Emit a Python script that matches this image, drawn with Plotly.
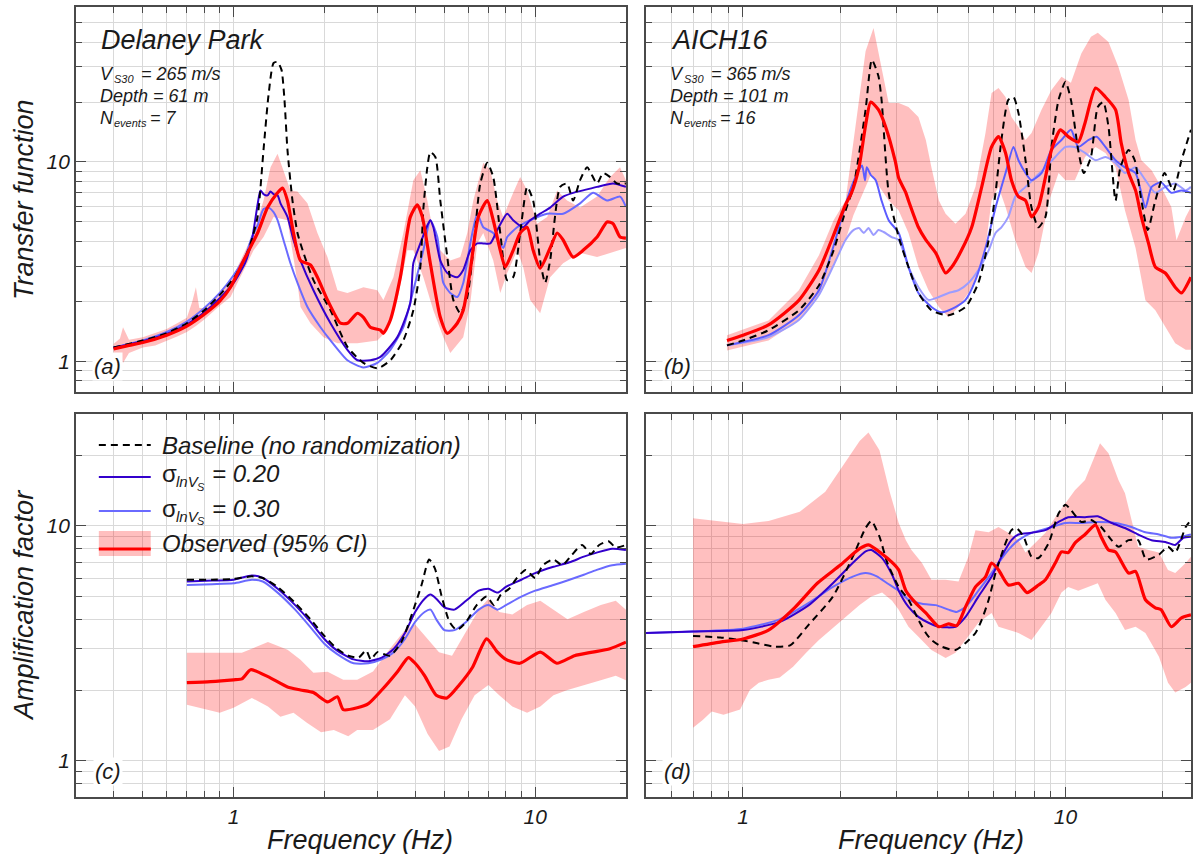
import math
import plotly.graph_objects as go

W, H = 1193, 854

# ---------------- Panel (a): Delaney Park, transfer function ----------------
A_BASE_F = [0.40, 0.50, 0.60, 0.70, 0.80, 0.90, 1.00, 1.096, 1.139, 1.201, 1.257, 1.306, 1.357, 1.399, 1.442, 1.475, 1.509,
            1.568, 1.629, 1.705, 1.840, 2.096, 2.385, 2.695, 2.998, 3.311, 3.655, 3.945, 4.162, 4.258, 4.390, 4.491, 4.666,
            4.847, 5.113, 5.352, 5.645, 5.955, 6.235, 6.577, 6.937, 7.262, 7.661, 8.078, 8.455, 8.919, 9.408, 9.849, 10.39,
            10.79, 11.21, 12.10, 12.76, 13.36, 14.09, 14.87, 16.04, 16.80, 17.72, 18.69, 20.0]
A_BASE_V = [1.17, 1.27, 1.38, 1.55, 1.80, 2.15, 2.60, 3.35, 3.9, 5.3, 11.5, 21.7, 31.4, 31.8, 29.0, 20.5, 11.5,
            6.4, 4.4, 3.5, 2.55, 1.8, 1.18, 0.98, 0.92, 1.01, 1.27, 1.8, 2.97, 5.8, 9.4, 11.2, 10.6,
            6.4, 3.33, 2.03, 1.74, 2.1, 3.6, 7.8, 9.9, 8.4, 4.4, 2.55, 2.64, 4.4, 7.5, 6.4, 3.2,
            2.47, 3.2, 7.5, 7.8, 6.4, 8.1, 9.4, 7.8, 8.8, 8.4, 7.8, 7.8]
A_S20_F = [0.40, 0.50, 0.60, 0.70, 0.80, 0.90, 1.00, 1.096, 1.15, 1.201, 1.228, 1.257, 1.296, 1.326, 1.357, 1.399, 1.431,
           1.509, 1.580, 1.667, 1.840, 2.096, 2.385, 2.574, 2.842, 3.068, 3.491, 3.856, 3.945, 4.162, 4.390, 4.491, 4.595,
           4.847, 5.113, 5.517, 5.775, 6.094, 6.428, 6.729, 7.097, 7.487, 8.078, 8.455, 9.127, 9.625, 10.39, 11.21, 12.38,
           13.36, 14.42, 16.04, 18.13, 20.0]
A_S20_V = [1.17, 1.26, 1.37, 1.53, 1.76, 2.07, 2.47, 3.15, 4.05, 6.1, 7.2, 6.9, 6.8, 7.1, 6.9, 6.8, 6.2,
           5.3, 4.06, 3.2, 2.27, 1.55, 1.14, 1.01, 1.01, 1.05, 1.32, 1.96, 3.1, 3.9, 4.8, 5.1, 4.7,
           3.2, 2.77, 2.64, 2.87, 3.6, 3.9, 3.9, 3.9, 4.55, 5.5, 5.1, 4.7, 5.1, 5.5, 5.9, 6.7,
           7.0, 7.2, 7.5, 7.8, 7.5]
A_S30_F = [0.40, 0.50, 0.60, 0.70, 0.80, 0.90, 1.00, 1.096, 1.15, 1.201, 1.257, 1.306, 1.357, 1.399, 1.464, 1.544, 1.629,
           1.758, 1.942, 2.096, 2.385, 2.695, 2.998, 3.311, 3.655, 3.945, 4.258, 4.491, 4.738, 4.960, 5.231, 5.517, 5.775,
           6.094, 6.428, 6.729, 7.262, 7.834, 8.078, 8.717, 9.625, 10.96, 12.38, 14.09, 15.56, 17.32, 19.12, 20.0]
A_S30_V = [1.17, 1.27, 1.40, 1.58, 1.85, 2.2, 2.7, 3.4, 4.2, 4.8, 5.8, 5.9, 5.6, 5.1, 4.06, 3.1, 2.47,
           1.87, 1.48, 1.27, 1.01, 0.93, 0.98, 1.14, 1.48, 2.27, 3.6, 5.1, 4.2, 2.47, 2.2, 2.1, 2.47,
           3.9, 5.5, 4.7, 4.4, 3.7, 4.2, 4.7, 5.1, 5.5, 5.5, 6.2, 7.0, 6.4, 6.7, 5.95]
A_OBS_F = [0.40, 0.45, 0.50, 0.60, 0.70, 0.80, 0.90, 0.977, 1.08, 1.201, 1.296, 1.399, 1.453, 1.509, 1.580, 1.667, 1.799,
           1.897, 2.048, 2.262, 2.385, 2.574, 2.695, 2.842, 3.068, 3.139, 3.311, 3.573, 3.856, 4.068, 4.226, 4.491, 4.847,
           5.113, 5.517, 5.775, 6.094, 6.478, 6.937, 7.262, 7.661, 7.955, 8.455, 8.919, 9.408, 9.849, 10.39, 11.21, 11.83,
           12.38, 13.36, 14.42, 16.04, 17.32, 18.13, 19.12, 20.0]
A_OBS_V = [1.15, 1.2, 1.24, 1.35, 1.5, 1.72, 2.0, 2.35, 3.2, 4.4, 5.9, 7.0, 7.4, 6.4, 4.4, 3.2, 3.04,
           2.64, 2.03, 1.55, 1.55, 1.74, 1.66, 1.48, 1.43, 1.38, 1.61, 2.64, 5.3, 6.1, 5.3, 3.1, 1.66,
           1.38, 1.55, 1.8, 2.87, 5.3, 6.4, 5.1, 3.6, 2.97, 3.6, 4.4, 4.7, 3.6, 2.93, 3.7, 4.4,
           4.06, 3.33, 3.6, 4.2, 5.0, 4.9, 4.2, 4.15]
A_CI_UP_F = [0.40, 0.42, 0.43, 0.45, 0.50, 0.55, 0.60, 0.65, 0.70, 0.73, 0.75, 0.77, 0.80, 0.85, 0.90, 1.00, 1.165,
             1.257, 1.326, 1.399, 1.544, 1.629, 1.758, 1.897, 2.048, 2.210, 2.385, 2.695, 2.998, 3.139, 3.388, 3.655,
             3.945, 4.162, 4.390, 4.595, 4.847, 5.231, 5.645, 5.955, 6.235, 6.729, 7.097, 7.487, 7.834, 8.455, 8.919,
             9.408, 10.15, 10.96, 11.83, 12.76, 14.09, 16.04, 17.72, 19.12, 20.0]
A_CI_UP_V = [1.22, 1.3, 1.48, 1.28, 1.32, 1.38, 1.45, 1.55, 1.65, 2.0, 2.35, 1.85, 1.85, 2.0, 2.2, 2.7, 4.4,
             6.4, 9.4, 11.0, 7.2, 7.1, 6.2, 4.4, 3.33, 2.27, 2.2, 2.35, 2.27, 2.03, 2.64, 4.4,
             8.1, 9.1, 6.4, 4.4, 3.6, 3.2, 3.33, 4.4, 6.4, 9.9, 9.1, 6.4, 5.3, 7.0, 8.4,
             7.2, 4.9, 5.3, 7.2, 6.4, 5.9, 6.7, 8.4, 9.4, 8.1]
A_CI_LO_F = [0.40, 0.42, 0.43, 0.45, 0.50, 0.55, 0.60, 0.65, 0.70, 0.75, 0.80, 0.85, 0.90, 0.977, 1.165, 1.257, 1.357,
             1.509, 1.629, 1.667, 1.799, 1.986, 2.210, 2.574, 2.998, 3.236, 3.491, 3.769, 3.945, 4.258, 4.595, 4.960,
             5.231, 5.775, 6.094, 6.428, 6.729, 7.262, 7.661, 8.078, 8.717, 9.127, 9.625, 10.39, 11.21, 12.38, 14.09,
             16.04, 17.72, 20.0]
A_CI_LO_V = [1.1, 1.08, 0.98, 1.1, 1.17, 1.2, 1.27, 1.33, 1.4, 1.5, 1.62, 1.75, 1.9, 2.1, 3.6, 4.2, 5.3,
             5.1, 2.47, 1.87, 1.55, 1.32, 1.23, 1.23, 1.27, 1.43, 2.03, 3.6, 3.6, 2.64, 1.8, 1.32,
             1.1, 1.32, 1.96, 3.9, 4.4, 3.2, 2.2, 2.77, 3.6, 2.97, 2.03, 1.74, 2.64, 3.1, 3.5,
             3.33, 3.5, 3.7]

# ---------------- Panel (b): AICH16, transfer function ----------------
B_BASE_F = [0.892, 1.0, 1.2, 1.49, 1.72, 1.91, 2.08, 2.2, 2.4, 2.51, 2.63, 2.69, 2.83, 3.04, 3.26, 3.5, 3.84, 4.34, 4.9,
            5.37, 5.78, 6.07, 6.33, 6.65, 6.9, 7.15, 7.52, 7.84, 8.24, 8.67, 9.05, 9.52, 10.0, 10.4, 10.95, 11.4, 12.0,
            12.6, 13.1, 13.6, 14.3, 14.8, 15.7, 16.4, 17.2, 18.0, 19.0, 20.3, 21.6, 22.9, 24.5]
B_BASE_V = [1.2, 1.27, 1.43, 1.8, 2.4, 3.6, 5.7, 7.5, 18.3, 32.6, 27, 20.5, 7.0, 4.2, 2.97, 2.2, 1.8, 1.7, 1.87,
            2.47, 4.05, 7.0, 12.9, 20.5, 21.2, 17.6, 10.2, 5.95, 4.7, 5.3, 11.9, 20.5, 25.3, 20.5, 11.5, 8.8, 10.6,
            18.9, 20.0, 15.0, 6.4, 9.4, 11.5, 10.2, 6.4, 4.55, 6.4, 8.8, 7.2, 10.2, 14.5]
B_S20_F = [0.892, 1.2, 1.49, 1.72, 1.91, 2.08, 2.17, 2.25, 2.34, 2.39, 2.42, 2.49, 2.58, 2.69, 2.83, 3.04, 3.26, 3.5, 3.84,
           4.13, 4.56, 4.9, 5.26, 5.65, 6.07, 6.52, 6.9, 7.15, 7.52, 7.85, 8.43, 9.05, 9.72, 10.4, 10.96, 11.8, 12.5, 13.3,
           14.3, 15.3, 16.5, 17.7, 18.5, 19.8, 21.3, 22.9, 24.5]
B_S20_V = [1.2, 1.35, 1.7, 2.27, 3.8, 6.1, 7.5, 8.6, 9.6, 8.1, 9.4, 8.6, 8.1, 6.4, 5.1, 4.4, 2.97, 2.2, 1.87,
           1.76, 1.87, 2.03, 2.55, 3.7, 5.9, 8.8, 11.9, 10.2, 8.8, 8.1, 8.8, 11.5, 12.9, 14.5, 11.9, 12.9, 13.4, 11.9,
           10.2, 9.4, 8.8, 5.9, 7.5, 7.9, 7.0, 7.2, 7.0]
B_S30_F = [0.892, 1.2, 1.49, 1.72, 1.91, 2.08, 2.2, 2.29, 2.37, 2.45, 2.54, 2.63, 2.73, 2.89, 3.04, 3.26, 3.5, 3.76, 4.05,
           4.34, 4.66, 5.0, 5.37, 5.78, 6.07, 6.33, 6.65, 6.99, 7.52, 8.08, 8.67, 9.3, 10.0, 10.7, 11.5, 12.4, 13.3, 14.3,
           15.3, 16.5, 17.7, 19.0, 20.4, 21.9, 23.6, 24.5]
B_S30_V = [1.2, 1.32, 1.61, 2.15, 3.03, 4.06, 4.55, 4.66, 4.4, 4.66, 4.3, 4.55, 4.45, 4.2, 4.06, 2.97, 2.35, 2.03, 2.1,
           2.2, 2.27, 2.47, 2.87, 3.6, 4.4, 4.7, 5.3, 6.7, 7.5, 8.4, 9.4, 10.6, 11.9, 11.9, 11.1, 10.2, 10.6, 9.9,
           8.8, 9.4, 8.1, 7.0, 7.5, 7.8, 7.2, 7.5]
B_OBS_F = [0.892, 1.0, 1.2, 1.49, 1.72, 1.91, 2.08, 2.17, 2.29, 2.4, 2.49, 2.63, 2.77, 2.97, 3.04, 3.2, 3.26, 3.5, 3.69,
           3.96, 4.25, 4.44, 4.76, 5.12, 5.5, 5.9, 6.2, 6.52, 6.8, 7.15, 7.52, 7.85, 8.25, 8.67, 9.05, 9.65, 10.2, 10.96,
           11.5, 12.4, 13.3, 14.3, 14.9, 15.7, 16.5, 17.2, 18.1, 19.0, 20.4, 21.9, 22.9, 24.5]
B_OBS_V = [1.27, 1.35, 1.52, 2.02, 2.86, 4.3, 6.1, 7.0, 9.4, 15.3, 20.0, 18.3, 15.0, 10.0, 8.3, 7.0, 6.4, 4.7, 4.06,
           3.5, 2.77, 2.97, 3.6, 4.7, 7.5, 11.9, 13.4, 11.1, 8.1, 6.7, 6.4, 5.3, 5.95, 8.4, 11.5, 14.5, 13.4, 12.6,
           15.7, 23.5, 21.2, 18.3, 12.4, 8.8, 7.2, 5.3, 3.9, 2.97, 2.77, 2.35, 2.2, 2.64]
B_CI_UP_F = [0.892, 1.2, 1.49, 1.72, 1.91, 2.08, 2.29, 2.4, 2.54, 2.69, 2.83, 3.04, 3.26, 3.5, 3.69, 3.84, 4.05, 4.25,
             4.56, 4.9, 5.26, 5.65, 5.9, 6.2, 6.52, 6.8, 7.15, 7.52, 7.85, 8.43, 9.05, 9.72, 10.4, 11.2, 12.0, 12.6,
             13.6, 14.6, 15.7, 16.5, 17.2, 18.5, 19.8, 21.3, 22.1, 23.6, 24.5]
B_CI_UP_V = [1.35, 1.6, 2.27, 3.4, 5.1, 6.4, 20.5, 36, 47, 30, 19.8, 19.8, 18.9, 16.8, 12.9, 9.4, 6.4, 5.5,
             4.9, 5.5, 7.5, 14.0, 22.2, 23.5, 21.2, 16.8, 15.0, 12.9, 14.0, 18.3, 23.0, 26.8, 25.0, 35, 42.5, 44.5,
             40, 30, 20.5, 12.9, 10.2, 9.1, 7.5, 5.95, 4.05, 5.3, 5.95]
B_CI_LO_F = [0.892, 1.2, 1.49, 1.72, 1.91, 2.08, 2.2, 2.37, 2.49, 2.63, 2.83, 3.04, 3.26, 3.5, 3.76, 4.05, 4.34, 4.66,
             5.0, 5.37, 5.65, 5.9, 6.2, 6.52, 6.99, 7.52, 7.85, 8.25, 8.9, 9.52, 10.0, 10.7, 11.5, 12.4, 13.3, 14.3,
             15.3, 16.5, 17.7, 19.0, 20.4, 21.9, 23.6, 24.5]
B_CI_LO_V = [1.13, 1.27, 1.6, 2.15, 3.03, 4.06, 5.4, 7.2, 8.6, 7.65, 6.4, 5.7, 4.4, 2.97, 2.27, 1.87, 1.66, 1.87,
             2.2, 2.77, 3.7, 6.4, 7.5, 5.95, 4.05, 2.97, 2.77, 3.5, 6.4, 8.8, 8.1, 8.1, 10.6, 11.9, 11.1, 9.4,
             5.7, 3.7, 2.02, 1.8, 1.48, 1.23, 1.14, 1.14]

# ---------------- Panel (c): Delaney Park, amplification factor ----------------
C_BASE_F = [0.70, 0.85, 1.0, 1.15, 1.25, 1.4, 1.6, 1.8, 2.0, 2.2, 2.4, 2.6, 2.75, 2.85, 3.0, 3.3, 3.6, 3.9, 4.2, 4.45,
            4.65, 4.9, 5.2, 5.5, 5.9, 6.4, 6.9, 7.3, 7.7, 8.2, 8.7, 9.3, 10.0, 10.6, 11.5, 12.3, 13.2, 14.3, 15.3, 16.3,
            17.5, 18.5, 20.0]
C_BASE_V = [5.9, 5.9, 5.95, 6.1, 6.0, 5.5, 4.7, 4.0, 3.4, 3.0, 2.8, 2.75, 2.95, 2.7, 2.9, 2.8, 3.2, 4.2, 5.6, 7.2,
            6.6, 5.0, 3.9, 3.6, 3.9, 4.6, 5.0, 4.6, 5.1, 5.4, 6.0, 6.5, 6.0, 6.8, 7.2, 6.8, 7.5, 8.3, 7.6, 8.3,
            8.6, 8.1, 8.3]
C_S20_F = [0.70, 0.85, 1.0, 1.15, 1.25, 1.4, 1.6, 1.8, 2.0, 2.2, 2.5, 2.8, 3.1, 3.4, 3.7, 4.0, 4.3, 4.5, 4.7, 5.0,
           5.4, 5.9, 6.5, 7.0, 7.5, 8.0, 9.0, 10.0, 11.5, 13.0, 14.5, 16.0, 18.0, 20.0]
C_S20_V = [5.8, 5.85, 5.9, 6.15, 6.0, 5.4, 4.6, 3.9, 3.3, 2.95, 2.7, 2.65, 2.75, 3.0, 3.5, 4.3, 4.9, 5.1, 4.9, 4.5,
           4.4, 4.8, 5.3, 5.4, 5.2, 5.5, 5.9, 6.3, 6.7, 7.0, 7.4, 7.7, 8.0, 7.9]
C_S30_F = [0.70, 0.85, 1.0, 1.15, 1.25, 1.4, 1.6, 1.8, 2.0, 2.2, 2.5, 2.8, 3.1, 3.4, 3.7, 4.0, 4.3, 4.5, 4.7, 5.0,
           5.4, 5.9, 6.5, 7.0, 7.5, 8.0, 9.0, 10.0, 11.5, 13.0, 14.5, 16.0, 18.0, 20.0]
C_S30_V = [5.6, 5.65, 5.7, 5.9, 5.8, 5.2, 4.4, 3.7, 3.15, 2.85, 2.6, 2.6, 2.7, 2.9, 3.3, 3.9, 4.3, 4.4, 4.0, 3.6,
           3.6, 3.9, 4.4, 4.6, 4.4, 4.6, 5.0, 5.3, 5.6, 5.9, 6.2, 6.5, 6.8, 6.9]
C_OBS_F = [0.70, 0.839, 1.0, 1.065, 1.14, 1.3, 1.51, 1.667, 1.84, 2.05, 2.21, 2.31, 2.57, 2.8, 3.1, 3.5, 3.8, 4.0, 4.3,
           4.7, 5.1, 5.6, 6.2, 6.9, 7.5, 8.0, 8.9, 10.4, 11.8, 13.5, 15.5, 17.7, 20.0]
C_OBS_V = [2.15, 2.17, 2.21, 2.23, 2.44, 2.28, 2.06, 2.0, 1.95, 1.78, 1.87, 1.65, 1.68, 1.75, 2.0, 2.4, 2.75, 2.6, 2.3,
           1.9, 1.85, 2.1, 2.5, 3.3, 2.9, 2.7, 2.6, 2.9, 2.6, 2.8, 2.9, 3.0, 3.2]
C_CI_UP_F = [0.70, 0.95, 1.065, 1.3, 1.51, 1.667, 1.84, 2.05, 2.31, 2.57, 2.9, 3.3, 3.7, 4.0, 4.4, 4.8, 5.3, 5.8, 6.5,
             7.0, 7.6, 8.4, 9.4, 10.4, 11.5, 12.8, 14.5, 16.5, 18.5, 20.0]
C_CI_UP_V = [2.88, 2.88, 2.88, 3.2, 2.97, 2.69, 2.37, 2.39, 2.21, 2.21, 2.4, 3.0, 3.6, 3.8, 3.3, 2.9, 2.8, 3.4, 4.4,
             4.9, 4.3, 4.2, 4.6, 4.8, 4.4, 4.0, 4.3, 4.6, 4.8, 4.4]
C_CI_LO_F = [0.70, 0.9, 1.0, 1.15, 1.3, 1.43, 1.58, 1.75, 1.95, 2.15, 2.4, 2.57, 2.9, 3.3, 3.7, 4.0, 4.4, 4.8, 5.2,
             5.7, 6.3, 7.0, 7.6, 8.4, 9.4, 10.4, 11.5, 12.8, 14.5, 16.5, 18.5, 20.0]
C_CI_LO_V = [1.73, 1.6, 1.68, 1.85, 1.7, 1.54, 1.6, 1.45, 1.32, 1.35, 1.27, 1.35, 1.35, 1.5, 1.9, 1.7, 1.3, 1.1, 1.15,
             1.5, 1.9, 2.1, 1.9, 1.7, 1.6, 1.7, 1.9, 2.0, 2.1, 2.2, 2.3, 2.2]

# ---------------- Panel (d): AICH16, amplification factor ----------------
D_BASE_F = [0.7, 0.85, 1.0, 1.1, 1.25, 1.4, 1.6, 1.9, 2.2, 2.4, 2.5, 2.65, 2.8, 3.04, 3.26, 3.5, 3.69, 3.84, 4.13,
            4.56, 4.9, 5.26, 5.5, 5.78, 6.07, 6.52, 6.8, 7.05, 7.42, 7.85, 8.25, 8.87, 9.52, 10.0, 10.4, 11.2, 12.0,
            12.9, 13.9, 14.6, 15.7, 16.8, 17.8, 19.5, 20.8, 21.9, 23.6, 24.5]
D_BASE_V = [3.4, 3.35, 3.25, 3.17, 3.06, 3.1, 3.8, 5.0, 7.5, 9.8, 10.5, 9.0, 7.0, 5.5, 4.85, 3.98, 3.5, 3.27, 3.06,
            2.96, 3.17, 3.5, 3.98, 4.85, 6.3, 8.45, 9.6, 9.8, 9.0, 7.4, 7.3, 8.45, 11.3, 12.3, 11.7, 10.4, 10.6,
            9.9, 8.7, 8.15, 8.7, 8.7, 7.2, 7.55, 8.15, 7.7, 9.9, 10.6]
D_S20_F = [0.5, 0.7, 1.0, 1.3, 1.6, 1.9, 2.2, 2.4, 2.5, 2.7, 2.9, 3.04, 3.26, 3.5, 3.76, 4.05, 4.56, 4.9, 5.37, 5.9,
           6.33, 6.8, 7.15, 7.85, 8.67, 9.52, 10.2, 11.5, 12.6, 13.9, 15.3, 16.8, 18.5, 20.4, 21.9, 23.2, 24.5]
D_S20_V = [3.5, 3.55, 3.6, 3.9, 4.6, 5.7, 7.0, 7.8, 7.9, 7.3, 6.2, 5.3, 4.52, 4.1, 3.87, 3.72, 3.72, 4.1, 5.0, 6.07,
           7.4, 8.7, 9.2, 9.35, 9.6, 10.4, 10.9, 10.9, 11.0, 10.3, 9.8, 9.2, 8.7, 8.55, 8.3, 8.9, 9.0]
D_S30_F = [0.5, 0.7, 1.0, 1.3, 1.6, 1.9, 2.2, 2.4, 2.6, 2.8, 3.04, 3.26, 3.59, 3.96, 4.34, 4.6, 4.9, 5.37, 5.9, 6.52,
           7.15, 7.85, 8.87, 10.0, 11.2, 12.6, 14.3, 16.0, 17.7, 19.5, 21.3, 22.9, 24.5]
D_S30_V = [3.5, 3.55, 3.65, 4.0, 4.7, 5.5, 6.1, 6.3, 6.1, 5.7, 5.3, 4.85, 4.66, 4.6, 4.4, 4.3, 4.52, 5.3, 6.3, 7.65,
           8.7, 9.35, 9.8, 10.3, 10.3, 10.4, 10.3, 9.9, 9.4, 9.2, 8.9, 9.0, 9.2]
D_OBS_F = [0.7, 0.85, 1.0, 1.2, 1.45, 1.7, 2.0, 2.3, 2.45, 2.7, 2.9, 3.04, 3.2, 3.43, 3.69, 4.05, 4.34, 4.6, 4.9, 5.26,
           5.65, 5.9, 6.2, 6.65, 7.15, 7.6, 8.25, 8.67, 9.3, 9.72, 10.2, 10.7, 11.5, 12.4, 12.9, 13.6, 14.3, 15.7, 16.5,
           17.7, 19.0, 19.8, 21.3, 22.9, 24.5]
D_OBS_V = [3.06, 3.2, 3.3, 3.6, 4.5, 5.7, 6.8, 8.0, 8.3, 7.6, 7.0, 6.5, 5.3, 4.7, 4.26, 3.72, 3.83, 3.76, 4.52, 5.5,
           6.07, 6.95, 6.5, 5.6, 5.7, 5.2, 5.6, 5.9, 6.95, 7.75, 7.7, 8.45, 9.2, 10.1, 9.0, 7.9, 7.75, 6.3, 6.4,
           4.85, 4.48, 4.4, 3.72, 4.06, 4.18]
D_CI_UP_F = [0.7, 0.85, 1.0, 1.2, 1.5, 1.8, 2.1, 2.3, 2.45, 2.65, 2.85, 3.04, 3.2, 3.33, 3.59, 3.84, 4.25, 4.66, 5.0,
             5.26, 5.78, 6.2, 6.65, 7.15, 7.52, 8.08, 8.67, 9.3, 10.0, 10.7, 11.5, 12.4, 12.8, 13.6, 14.6, 15.3, 16.0,
             16.8, 18.1, 19.5, 20.8, 21.9, 23.6, 24.5]
D_CI_UP_V = [10.8, 10.5, 10.2, 10.5, 11.5, 14, 19, 23, 25, 21, 14, 10.3, 8.7, 7.9, 6.95, 5.9, 5.9, 5.8, 7.4,
             9.6, 9.4, 9.9, 9.35, 8.7, 7.7, 8.45, 9.35, 10.9, 12.5, 14.2, 15.7, 20.4, 22.5, 20.4, 15.7, 13.8, 10.6,
             8.15, 7.9, 7.7, 6.5, 6.3, 6.95, 7.4]
D_CI_LO_F = [0.7, 0.75, 0.8, 0.87, 0.98, 1.05, 1.12, 1.2, 1.3, 1.43, 1.57, 1.72, 2.0, 2.3, 2.5, 2.7, 2.9, 3.04, 3.26,
             3.5, 3.84, 4.25, 4.56, 4.9, 5.37, 5.9, 6.2, 6.65, 7.15, 7.85, 8.43, 9.05, 9.72, 10.2, 10.96, 11.8, 12.6,
             13.3, 14.3, 15.3, 16.5, 17.7, 19.5, 20.8, 21.9, 23.6, 24.5]
D_CI_LO_V = [1.38, 1.49, 1.62, 1.57, 1.65, 2.0, 2.15, 2.21, 2.26, 2.51, 2.88, 3.27, 3.9, 4.6, 5.0, 5.2, 4.8, 4.4, 3.72,
             3.37, 2.96, 2.74, 2.88, 3.27, 3.87, 4.26, 3.72, 3.6, 3.5, 3.27, 3.72, 4.26, 5.2, 5.5, 5.3, 5.5, 5.7,
             4.85, 4.26, 3.6, 3.72, 3.5, 2.77, 2.15, 1.95, 2.06, 2.15]

# ---------------- Ticks and text ----------------
MAJOR_TICKS = [1, 10]
MAJOR_LABELS = ["1", "10"]
X_MINOR = [0.3, 0.4, 0.5, 0.6, 0.7, 0.8, 0.9, 2, 3, 4, 5, 6, 7, 8, 9, 20]
Y_MINOR_TOP = [0.7, 0.8, 0.9, 2, 3, 4, 5, 6, 7, 8, 9, 20, 30, 40, 50, 60]
Y_MINOR_BOT = [0.7, 0.8, 0.9, 2, 3, 4, 5, 6, 7, 8, 9, 20, 30]
SITES = ["Delaney Park", "AICH16"]
VS30_TEXT = ["= 265 m/s", "= 365 m/s"]
DEPTH_TEXT = ["Depth = 61 m", "Depth = 101 m"]
NEVENTS_TEXT = ["= 7", "= 16"]
PANEL_TAGS = ["(a)", "(b)", "(c)", "(d)"]
LEGEND_BASELINE = "Baseline (no randomization)"
LEGEND_SIGMAS = ["= 0.20", "= 0.30"]
LEGEND_OBS = "Observed (95% CI)"

# ---------------- Styling ----------------
FONT = "Liberation Sans, Arial, sans-serif"
INK = "#1a1a1a"
FRAME = "#4a4a4a"
GRID = "#d9d9d9"
BAND = "rgba(255,0,0,0.25)"
RED = "#ff0000"
DARK = "#3300cc"
LIGHT = "#6a6aff"
B_DARK = "#5c5cff"
B_LIGHT = "#9c9cff"


def px(x):
    return x / W


def py(y):
    return 1 - y / H


fig = go.Figure()


def add_panel(n, up_f, up_v, lo_f, lo_v, s30_f, s30_v, s20_f, s20_v, b_f, b_v, o_f, o_v, c20, c30):
    xa = "x" if n == 1 else "x%d" % n
    ya = "y" if n == 1 else "y%d" % n
    fig.add_trace(go.Scatter(x=up_f + lo_f[::-1], y=up_v + lo_v[::-1], fill="toself", fillcolor=BAND,
                             line=dict(width=0), mode="lines", hoverinfo="skip", showlegend=False,
                             xaxis=xa, yaxis=ya))
    series = [(s30_f, s30_v, c30, 2.0, "solid"), (s20_f, s20_v, c20, 2.0, "solid"),
              (b_f, b_v, "#000000", 2.0, "7px,5px"), (o_f, o_v, RED, 3.2, "solid")]
    for f, v, col, w, dash in series:
        fig.add_trace(go.Scatter(x=f, y=v, mode="lines",
                                 line=dict(color=col, width=w, dash=dash, shape="spline", smoothing=0.6),
                                 hoverinfo="skip", showlegend=False, xaxis=xa, yaxis=ya))


add_panel(1, A_CI_UP_F, A_CI_UP_V, A_CI_LO_F, A_CI_LO_V, A_S30_F, A_S30_V, A_S20_F, A_S20_V,
          A_BASE_F, A_BASE_V, A_OBS_F, A_OBS_V, DARK, LIGHT)
add_panel(2, B_CI_UP_F, B_CI_UP_V, B_CI_LO_F, B_CI_LO_V, B_S30_F, B_S30_V, B_S20_F, B_S20_V,
          B_BASE_F, B_BASE_V, B_OBS_F, B_OBS_V, B_DARK, B_LIGHT)
add_panel(3, C_CI_UP_F, C_CI_UP_V, C_CI_LO_F, C_CI_LO_V, C_S30_F, C_S30_V, C_S20_F, C_S20_V,
          C_BASE_F, C_BASE_V, C_OBS_F, C_OBS_V, DARK, LIGHT)
add_panel(4, D_CI_UP_F, D_CI_UP_V, D_CI_LO_F, D_CI_LO_V, D_S30_F, D_S30_V, D_S20_F, D_S20_V,
          D_BASE_F, D_BASE_V, D_OBS_F, D_OBS_V, DARK, LIGHT)


def axis(domain, rng, anchor, minor_vals, show_labels, standoff):
    return dict(type="log", domain=domain, range=rng, anchor=anchor,
                showline=True, linecolor=FRAME, linewidth=1.5, mirror="ticks",
                ticks="inside", ticklen=10, tickwidth=1.2, tickcolor=FRAME,
                showgrid=True, gridcolor=GRID, gridwidth=1, zeroline=False,
                tickmode="array", tickvals=MAJOR_TICKS, ticktext=MAJOR_LABELS,
                minor=dict(tickmode="array", tickvals=minor_vals, ticks="inside", ticklen=6,
                           tickwidth=1, tickcolor=FRAME, showgrid=True, gridcolor=GRID, gridwidth=1),
                showticklabels=show_labels, ticklabelstandoff=standoff,
                tickfont=dict(family=FONT, size=21, color=INK, style="italic"))


XL = [px(76), px(627)]
XR = [px(647), 1.0]
YT = [py(392), py(7)]
YB = [py(797), py(414)]
XL_RANGE = [math.log10(0.3), math.log10(20)]
XR_RANGE = [math.log10(0.5), math.log10(0.5) + 546 / 323]
YT_RANGE = [math.log10(0.7), math.log10(60)]
YB_RANGE = [math.log10(0.7), math.log10(30)]

fig.update_layout(
    width=W, height=H, autosize=False,
    margin=dict(l=0, r=0, t=0, b=0),
    paper_bgcolor="white", plot_bgcolor="white",
    showlegend=False,
    xaxis=axis(XL, XL_RANGE, "y", X_MINOR, False, 0),
    xaxis2=axis(XR, XR_RANGE, "y2", X_MINOR, False, 0),
    xaxis3=axis(XL, XL_RANGE, "y3", X_MINOR, True, 0),
    xaxis4=axis(XR, XR_RANGE, "y4", X_MINOR, True, 0),
    yaxis=axis(YT, YT_RANGE, "x", Y_MINOR_TOP, True, 0),
    yaxis2=axis(YT, YT_RANGE, "x2", Y_MINOR_TOP, False, 0),
    yaxis3=axis(YB, YB_RANGE, "x3", Y_MINOR_BOT, True, 0),
    yaxis4=axis(YB, YB_RANGE, "x4", Y_MINOR_BOT, False, 0),
)

shapes = []
annotations = []


def text(x, y, s, size, xanchor="left", angle=0, bg=None):
    d = dict(x=px(x), y=py(y), xref="paper", yref="paper", text=s, showarrow=False,
             xanchor=xanchor, yanchor="middle", textangle=angle,
             font=dict(family=FONT, size=size, color=INK, style="italic"))
    if bg:
        d.update(bgcolor=bg, borderpad=1)
    annotations.append(d)


# white boxes behind the site texts and legend (hide the grid)
for x0, x1, y0, y1 in [(94, 272, 18, 128), (665, 795, 18, 128), (80, 466, 418, 560)]:
    shapes.append(dict(type="rect", xref="paper", yref="paper", x0=px(x0), x1=px(x1), y0=py(y1), y1=py(y0),
                       fillcolor="white", line=dict(width=0), layer="between"))

# site titles and info (subscripts set as separate smaller texts)
for i, x0 in enumerate([98, 669]):
    text(x0 + 1, 40, SITES[i], 27)
    text(x0, 74, "V", 18)
    text(x0 + 14, 79, "S30", 11)
    text(x0 + 41, 74, VS30_TEXT[i], 18)
    text(x0, 96, DEPTH_TEXT[i], 18)
    text(x0, 118, "N", 18)
    text(x0 + 14, 123, "events", 11)
    text(x0 + 50, 118, NEVENTS_TEXT[i], 18)

# panel tags
for tag, (x, y) in zip(PANEL_TAGS, [(108, 366), (679, 366), (108, 771), (679, 771)]):
    text(x, y, tag, 22, xanchor="center", bg="white")

# axis titles
text(24, 199, "Transfer function", 27, xanchor="center", angle=-90)
text(24, 605, "Amplification factor", 27, xanchor="center", angle=-90)
text(361, 840, "Frequency (Hz)", 27, xanchor="center")
text(933, 840, "Frequency (Hz)", 27, xanchor="center")

# legend (panel c)
LX0, LX1 = 99, 151
shapes.append(dict(type="line", xref="paper", yref="paper", x0=px(LX0), x1=px(LX1), y0=py(445), y1=py(445),
                   line=dict(color="#000000", width=2, dash="7px,5px"), layer="above"))
shapes.append(dict(type="line", xref="paper", yref="paper", x0=px(LX0), x1=px(LX1), y0=py(477), y1=py(477),
                   line=dict(color=DARK, width=2), layer="above"))
shapes.append(dict(type="line", xref="paper", yref="paper", x0=px(LX0), x1=px(LX1), y0=py(511), y1=py(511),
                   line=dict(color=LIGHT, width=2), layer="above"))
shapes.append(dict(type="rect", xref="paper", yref="paper", x0=px(LX0), x1=px(LX1), y0=py(556), y1=py(531),
                   fillcolor=BAND, line=dict(width=0), layer="above"))
shapes.append(dict(type="line", xref="paper", yref="paper", x0=px(LX0), x1=px(LX1), y0=py(549), y1=py(549),
                   line=dict(color=RED, width=3.2), layer="above"))
text(160, 445, LEGEND_BASELINE, 24)
for k, yy in enumerate([474, 508]):
    annotations.append(dict(x=px(160), y=py(yy), xref="paper", yref="paper", text="σ", showarrow=False,
                            xanchor="left", yanchor="middle",
                            font=dict(family=FONT, size=24, color=INK)))
    text(174, yy + 8, "lnV", 15)
    text(195, yy + 13, "S", 11)
    text(210, yy, LEGEND_SIGMAS[k], 24)
text(160, 543, LEGEND_OBS, 24)

fig.update_layout(shapes=shapes, annotations=annotations)
fig.write_html("out.html")
